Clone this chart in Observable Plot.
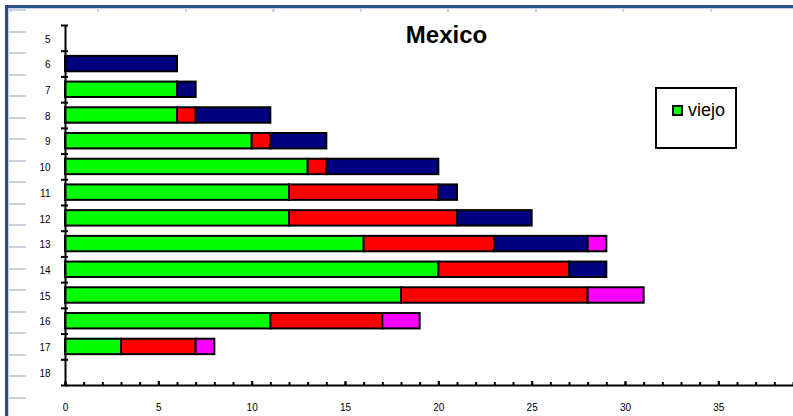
<!DOCTYPE html>
<html><head><meta charset="utf-8">
<script src="https://cdn.jsdelivr.net/npm/d3@7"></script>
<script src="https://cdn.jsdelivr.net/npm/@observablehq/plot@0.6"></script>
<style>
body{margin:0;background:#fff;}
#wrap{position:relative;width:793px;height:416px;overflow:hidden;font-family:"Liberation Sans",Arial,sans-serif;}
#wrap svg{position:absolute;left:0;top:0;}
.ov{position:absolute;pointer-events:none;}
#frame{left:5px;top:5px;width:800px;height:420px;border-top:3px solid #244f87;border-left:3px solid #244f87;}
#inner{left:8px;top:8px;width:800px;height:420px;border-top:1px solid #c8d0e2;border-left:1px solid #c8d0e2;}
#rulerL{left:9px;top:8.5px;width:17px;height:408px;background:repeating-linear-gradient(to bottom,#c8d0e2 0 2px,transparent 2px 21.55px);}
#rulerT{left:9.5px;top:9px;width:790px;height:3px;background:repeating-linear-gradient(to right,#c8d0e2 0 2px,transparent 2px 87.5px);}
#legend{left:655px;top:87px;width:82px;height:62px;box-sizing:border-box;border:2px solid #000;background:#fff;}
#legend .sw{position:absolute;left:15px;top:16px;width:11px;height:11px;box-sizing:border-box;border:2px solid #000;background:#00ff00;}
#legend .lb{position:absolute;left:31px;top:10px;font-size:18px;line-height:22px;color:#000;}
</style></head>
<body>
<div id="wrap"></div>
<script>
const title = "Mexico";
const categories = [5,6,7,8,9,10,11,12,13,14,15,16,17,18];
const seriesNames = ["viejo","serie 2","serie 3","serie 4"];
const seriesColors = ["#00ff00","#ff0000","#000080","#ff00ff"];
const viejo  = [0,0,6,6,10,13,12,12,16,20,18,11,3,0];
const serie2 = [0,0,0,1,1,1,8,9,7,7,10,6,4,0];
const serie3 = [0,6,1,4,3,6,1,4,5,2,0,0,0,0];
const serie4 = [0,0,0,0,0,0,0,0,1,0,3,2,1,0];
const xMajorTicks = [0,5,10,15,20,25,30,35];
const xMinorTicks = d3.range(0,40);
const legendLabel = "viejo";

const seriesValues = [viejo, serie2, serie3, serie4];
const rows = [];
categories.forEach((c, i) => {
  let acc = 0;
  seriesValues.forEach((vals, s) => {
    const v = vals[i];
    if (v > 0) rows.push({cat: c, series: seriesNames[s], x1: acc, x2: acc + v});
    acc += v;
  });
});
const boundaries = [...categories.map(c => c - 0.5), categories[categories.length-1] + 0.5];

const chart = Plot.plot({
  width: 793, height: 416,
  marginLeft: 65, marginRight: 0, marginTop: 25, marginBottom: 31,
  style: {fontFamily: "'Liberation Sans', Arial, sans-serif", background: "transparent", color: "#000"},
  x: {domain: [0, 39], axis: null},
  y: {domain: [4.5, 18.5], reverse: true, axis: null},
  color: {domain: seriesNames, range: seriesColors},
  marks: [
    Plot.rectX(rows, {x1: "x1", x2: "x2", y1: d => d.cat - 0.3, y2: d => d.cat + 0.3, fill: "series", stroke: "#000", strokeWidth: 2}),
    Plot.ruleX([0], {stroke: "#000", strokeWidth: 2}),
    Plot.ruleY([18.5], {stroke: "#000", strokeWidth: 2}),
    Plot.axisY(categories, {anchor: "left", tickSize: 0, tickPadding: 15, fontSize: 10, dy: 1}),
    Plot.axisY(boundaries, {anchor: "left", tickSize: 7, dx: 3, text: null, strokeWidth: 2}),
    Plot.axisX(xMinorTicks, {anchor: "bottom", tickSize: 3, dy: -3, text: null, strokeWidth: 2}),
    Plot.axisX(xMajorTicks, {anchor: "bottom", tickSize: 4, dy: -4, text: null, strokeWidth: 2}),
    Plot.axisX(xMajorTicks, {anchor: "bottom", tickSize: 0, tickPadding: 18, fontSize: 10}),
    Plot.text([title], {frameAnchor: "top", dx: 17, dy: 17, lineAnchor: "bottom", fontSize: 24, fontWeight: "bold", fill: "#000"})
  ]
});
const wrap = document.getElementById("wrap");
wrap.appendChild(chart);
wrap.insertAdjacentHTML("beforeend",
  '<div class="ov" id="frame"></div><div class="ov" id="inner"></div><div class="ov" id="rulerL"></div><div class="ov" id="rulerT"></div>' +
  '<div class="ov" id="legend"><div class="sw"></div><div class="lb"></div></div>');
document.querySelector("#legend .lb").textContent = legendLabel;
</script>
</body></html>
